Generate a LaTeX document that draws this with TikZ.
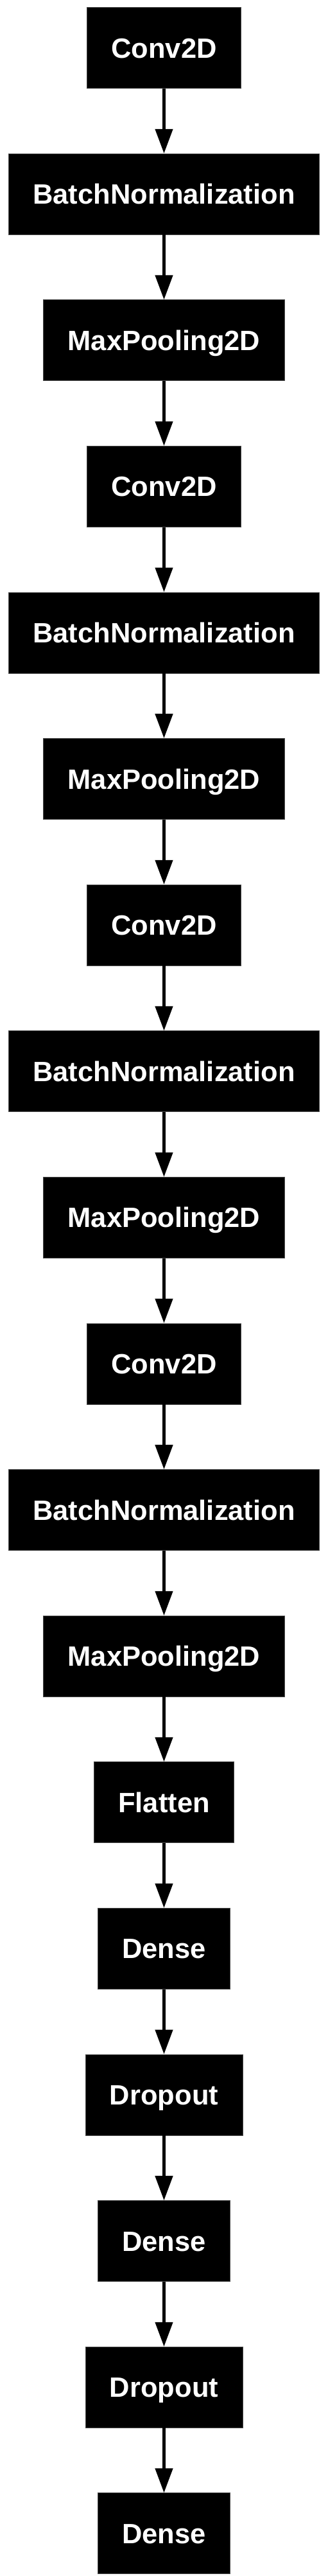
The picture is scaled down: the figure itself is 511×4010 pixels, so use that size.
\documentclass[tikz,border=0pt]{standalone}
\usepackage{fontspec}
\setmainfont{Liberation Sans}
\usetikzlibrary{positioning,arrows.meta}

\begin{document}
\begin{tikzpicture}[x=1pt, y=1pt,
        layer/.style={rectangle, draw=black!70, fill=black, text=white,
            font=\fontsize{43.5}{44}\selectfont\bfseries,
            minimum height=126pt, inner xsep=38pt, inner ysep=0pt,
            text height=31pt, text depth=0pt, line width=0.6pt},
        flow/.style={-{Triangle[length=38pt, width=27pt]}, line width=4.5pt}
    ]
    \useasboundingbox (0,0) rectangle (511,-4010);
    \node[layer] (c1) at (255.5,-74.5) {Conv2D};
    \node[layer, below=101pt of c1] (bn1) {BatchNormalization};
    \node[layer, below=101pt of bn1] (mp1) {MaxPooling2D};
    \node[layer, below=101pt of mp1] (c2) {Conv2D};
    \node[layer, below=101pt of c2] (bn2) {BatchNormalization};
    \node[layer, below=101pt of bn2] (mp2) {MaxPooling2D};
    \node[layer, below=101pt of mp2] (c3) {Conv2D};
    \node[layer, below=101pt of c3] (bn3) {BatchNormalization};
    \node[layer, below=101pt of bn3] (mp3) {MaxPooling2D};
    \node[layer, below=101pt of mp3] (c4) {Conv2D};
    \node[layer, below=101pt of c4] (bn4) {BatchNormalization};
    \node[layer, below=101pt of bn4] (mp4) {MaxPooling2D};
    \node[layer, below=101pt of mp4] (fl) {Flatten};
    \node[layer, below=101pt of fl] (d1) {Dense};
    \node[layer, below=101pt of d1] (do1) {Dropout};
    \node[layer, below=101pt of do1] (d2) {Dense};
    \node[layer, below=101pt of d2] (do2) {Dropout};
    \node[layer, below=101pt of do2] (d3) {Dense};
    % connections
    \foreach \a/\b in {c1/bn1, bn1/mp1, mp1/c2, c2/bn2, bn2/mp2, mp2/c3, c3/bn3,
            bn3/mp3, mp3/c4, c4/bn4, bn4/mp4, mp4/fl, fl/d1, d1/do1, do1/d2,
            d2/do2, do2/d3}
        \draw[flow] (\a) -- (\b);
\end{tikzpicture}
\end{document}
